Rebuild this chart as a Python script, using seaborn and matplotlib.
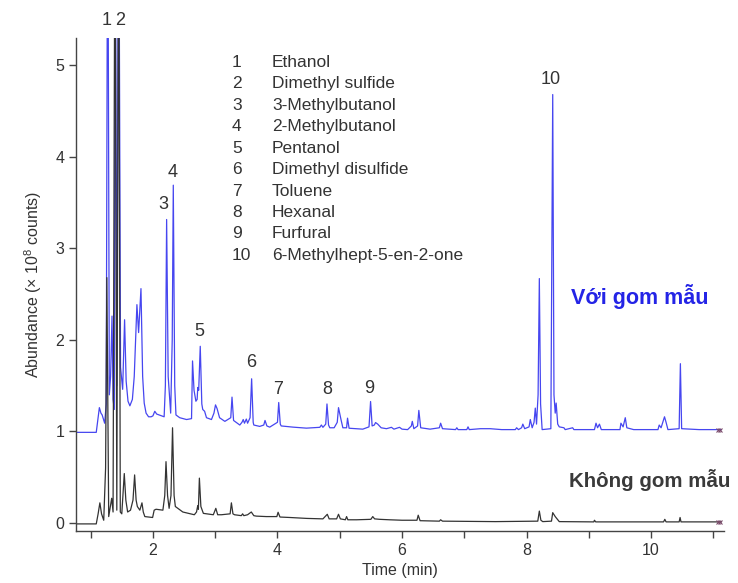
import numpy as np
import pandas as pd
import seaborn as sns
import matplotlib
matplotlib.use("Agg")
import matplotlib.pyplot as plt
from matplotlib.ticker import MultipleLocator, FuncFormatter

# ---------------- data ----------------
# "Với gom mẫu" trace (blue), values before vertical offset
blue_time = [0.77, 1.09, 1.12, 1.14, 1.165, 1.185, 1.225, 1.25, 1.274, 1.30, 1.32, 1.343,
             1.36, 1.38, 1.395, 1.42, 1.45, 1.48, 1.514, 1.545, 1.57, 1.60, 1.63, 1.67,
             1.70, 1.743, 1.77, 1.808, 1.835, 1.86, 1.89, 1.93, 1.97, 2.00, 2.03, 2.06,
             2.10, 2.18, 2.20, 2.22, 2.245, 2.285, 2.31, 2.327, 2.35, 2.37, 2.43, 2.54,
             2.62, 2.636, 2.66, 2.69, 2.71, 2.72, 2.735, 2.76, 2.785, 2.80, 2.83, 2.86,
             2.94, 2.98, 3.005, 3.03, 3.07, 3.155, 3.25, 3.27, 3.295, 3.395, 3.43, 3.45,
             3.47, 3.50, 3.52, 3.56, 3.585, 3.61, 3.62, 3.715, 3.78, 3.80, 3.83, 3.875,
             4.00, 4.02, 4.045, 4.06, 4.25, 4.465, 4.68, 4.705, 4.73, 4.775, 4.795, 4.82,
             4.84, 4.91, 4.96, 4.98, 5.02, 5.05, 5.11, 5.125, 5.15, 5.265, 5.37, 5.47,
             5.495, 5.52, 5.555, 5.575, 5.61, 5.665, 5.75, 5.83, 5.87, 5.96, 6.00, 6.09,
             6.15, 6.165, 6.19, 6.25, 6.27, 6.30, 6.45, 6.60, 6.62, 6.65, 6.86, 6.88,
             6.90, 7.04, 7.06, 7.08, 7.26, 7.415, 7.60, 7.82, 7.84, 7.87, 7.92, 7.94,
             7.97, 8.04, 8.06, 8.09, 8.12, 8.14, 8.16, 8.185, 8.205, 8.225, 8.25, 8.39,
             8.42, 8.44, 8.46, 8.475, 8.50, 8.525, 8.60, 8.62, 8.74, 8.76, 9.09, 9.115,
             9.14, 9.17, 9.20, 9.32, 9.50, 9.515, 9.55, 9.585, 9.61, 9.72, 9.86, 10.11,
             10.13, 10.16, 10.215, 10.24, 10.27, 10.45, 10.47, 10.49, 10.77, 11.13]
blue_abund = [-0.01, -0.01, 0.15, 0.26, 0.20, 0.18, 0.09, 0.30, 6.5, 0.40, 0.60, 1.26,
              0.35, 0.24, 6.5, 0.50, 6.5, 0.70, 0.46, 1.22, 0.55, 0.33, 0.28, 0.35,
              0.60, 1.385, 1.08, 1.56, 0.60, 0.31, 0.20, 0.16, 0.16, 0.17, 0.22, 0.19,
              0.18, 0.16, 0.50, 2.315, 0.60, 0.20, 1.00, 2.69, 0.50, 0.18, 0.15, 0.13,
              0.14, 0.77, 0.45, 0.33, 0.35, 0.48, 0.45, 0.93, 0.30, 0.24, 0.22, 0.15,
              0.13, 0.20, 0.29, 0.25, 0.15, 0.11, 0.15, 0.375, 0.12, 0.07, 0.10, 0.13,
              0.09, 0.135, 0.09, 0.15, 0.575, 0.10, 0.07, 0.055, 0.07, 0.12, 0.06, 0.047,
              0.10, 0.316, 0.08, 0.06, 0.047, 0.036, 0.045, 0.07, 0.045, 0.08, 0.30, 0.07,
              0.04, 0.04, 0.10, 0.26, 0.13, 0.04, 0.04, 0.145, 0.035, 0.03, 0.025, 0.05,
              0.327, 0.06, 0.07, 0.097, 0.08, 0.04, 0.03, 0.045, 0.025, 0.045, 0.025, 0.02,
              0.06, 0.11, 0.03, 0.06, 0.23, 0.04, 0.025, 0.04, 0.09, 0.03, 0.02, 0.04,
              0.02, 0.02, 0.05, 0.02, 0.03, 0.03, 0.02, 0.02, 0.04, 0.02, 0.04, 0.08,
              0.03, 0.05, 0.13, 0.04, 0.10, 0.255, 0.08, 0.40, 1.67, 0.30, 0.02, 0.03,
              3.68, 0.40, 0.20, 0.31, 0.08, 0.05, 0.04, 0.02, 0.04, 0.02, 0.02, 0.09,
              0.04, 0.08, 0.02, 0.02, 0.02, 0.09, 0.05, 0.15, 0.04, 0.02, 0.02, 0.02,
              0.07, 0.04, 0.16, 0.10, 0.02, 0.03, 0.74, 0.03, 0.02, 0.02]

# "Không gom mẫu" trace (dark grey)
black_time = [0.77, 1.09, 1.12, 1.148, 1.175, 1.21, 1.24, 1.26, 1.29, 1.338, 1.36, 1.39,
              1.42, 1.45, 1.476, 1.50, 1.54, 1.565, 1.594, 1.64, 1.68, 1.706, 1.73, 1.75,
              1.79, 1.824, 1.845, 1.87, 1.995, 2.02, 2.05, 2.16, 2.19, 2.21, 2.235, 2.26,
              2.29, 2.315, 2.34, 2.36, 2.48, 2.665, 2.70, 2.72, 2.73, 2.746, 2.77, 2.81,
              2.97, 3.01, 3.04, 3.10, 3.24, 3.26, 3.285, 3.31, 3.42, 3.44, 3.46, 3.52,
              3.58, 3.62, 3.66, 3.82, 3.99, 4.01, 4.04, 4.20, 4.47, 4.73, 4.80, 4.83,
              4.95, 4.98, 5.01, 5.09, 5.11, 5.13, 5.27, 5.50, 5.53, 5.56, 5.64, 5.80,
              6.00, 6.24, 6.26, 6.29, 6.60, 6.62, 6.65, 7.50, 8.18, 8.205, 8.23, 8.26,
              8.40, 8.42, 8.46, 8.525, 9.08, 9.09, 9.11, 10.20, 10.22, 10.24, 10.45, 10.465,
              10.48, 11.13]
black_abund = [-0.01, -0.01, 0.10, 0.22, 0.10, 0.03, 0.60, 2.68, 0.07, 0.27, 0.12, 7.0,
               0.14, 7.0, 0.12, 0.10, 0.54, 0.25, 0.12, 0.14, 0.25, 0.525, 0.25, 0.18,
               0.14, 0.22, 0.12, 0.07, 0.06, 0.14, 0.15, 0.14, 0.30, 0.67, 0.30, 0.16,
               0.30, 1.04, 0.30, 0.18, 0.12, 0.09, 0.12, 0.19, 0.15, 0.49, 0.18, 0.105,
               0.09, 0.16, 0.09, 0.09, 0.10, 0.22, 0.10, 0.09, 0.08, 0.10, 0.08, 0.09,
               0.12, 0.08, 0.075, 0.07, 0.07, 0.117, 0.065, 0.06, 0.05, 0.045, 0.095, 0.045,
               0.045, 0.095, 0.045, 0.035, 0.07, 0.035, 0.035, 0.04, 0.07, 0.045, 0.04, 0.035,
               0.03, 0.03, 0.085, 0.025, 0.02, 0.035, 0.02, 0.015, 0.02, 0.13, 0.03, 0.015,
               0.02, 0.113, 0.07, 0.015, 0.012, 0.03, 0.012, 0.012, 0.04, 0.012, 0.012, 0.06,
               0.012, 0.012]

series_names = ["Với gom mẫu", "Không gom mẫu"]
series_offsets = [1.0, 0.0]

peak_labels = ["1", "2", "3", "4", "5", "6", "7", "8", "9", "10"]
peak_label_time = [1.25, 1.47, 2.17, 2.31, 2.745, 3.57, 4.01, 4.80, 5.48, 8.39]
peak_label_y = [5.485, 5.485, 3.48, 3.83, 2.09, 1.75, 1.455, 1.455, 1.47, 4.84]

compound_names = ["Ethanol", "Dimethyl sulfide", "3-Methylbutanol", "2-Methylbutanol",
                  "Pentanol", "Dimethyl disulfide", "Toluene", "Hexanal", "Furfural",
                  "6-Methylhept-5-en-2-one"]

x_ticks = [2, 4, 6, 8, 10]
y_ticks = [0, 1, 2, 3, 4, 5]

# ---------------- build table ----------------
frames = []
for name, off, t, a in [(series_names[0], series_offsets[0], blue_time, blue_abund),
                        (series_names[1], series_offsets[1], black_time, black_abund)]:
    frames.append(pd.DataFrame({"Time": t,
                                "Abundance": np.asarray(a) + off,
                                "Series": name}))
df = pd.concat(frames, ignore_index=True)

# ---------------- style ----------------
sns.set_style("ticks")
plt.rcParams["font.family"] = ["Liberation Sans", "DejaVu Sans"]
plt.rcParams["mathtext.fontset"] = "custom"
plt.rcParams["mathtext.rm"] = "Liberation Sans"
plt.rcParams["mathtext.default"] = "regular"

text_color = "#333333"
palette = {series_names[0]: "#4646f0", series_names[1]: "#333333"}

fig = plt.figure(figsize=(7.38, 5.83), dpi=100)
ax = fig.add_axes([0.103, 0.0892, 0.878, 0.846])

sns.lineplot(data=df, x="Time", y="Abundance", hue="Series", palette=palette,
             estimator=None, sort=False, linewidth=0.9, legend=False, ax=ax)

# small end markers
ax.plot([11.08, 11.11], [1.02, 1.02], ls="none", marker="x", ms=2.5, mew=0.8, color="#7a4a6a")
ax.plot([11.08, 11.11], [0.012, 0.012], ls="none", marker="x", ms=2.5, mew=0.8, color="#7a4a6a")

ax.set_xlim(0.765, 11.17)
ax.set_ylim(-0.0875, 5.30)

ax.xaxis.set_major_locator(MultipleLocator(1))
ax.xaxis.set_major_formatter(FuncFormatter(lambda v, p: f"{int(round(v))}" if int(round(v)) in x_ticks else ""))
ax.set_yticks(y_ticks)

for s in ["top", "right"]:
    ax.spines[s].set_visible(False)
for s in ["left", "bottom"]:
    ax.spines[s].set_color("#444444")
    ax.spines[s].set_linewidth(1.0)
ax.tick_params(axis="both", colors="#444444", labelcolor=text_color, labelsize=11.5,
               length=5, width=1.0)

ax.set_xlabel("Time (min)", fontsize=11.5, color=text_color, labelpad=4)
ax.set_ylabel(r"Abundance (× 10$^{8}$ counts)", fontsize=11.5, color=text_color, labelpad=8)

for lab, tx, ty in zip(peak_labels, peak_label_time, peak_label_y):
    ax.text(tx, ty, lab, ha="center", va="center", fontsize=13, color=text_color)

# compound list
row_top = 5.03
row_step = 0.234
for i, (lab, nm) in enumerate(zip(peak_labels, compound_names)):
    yy = row_top - i * row_step
    ax.text(3.27, yy, lab, ha="left", va="center", fontsize=12.5, color=text_color)
    ax.text(3.91, yy, nm, ha="left", va="center", fontsize=12.5, color=text_color)

ax.text(8.72, 2.47, series_names[0], ha="left", va="center", fontsize=15.5,
        fontweight="bold", color="#2424e6")
ax.text(8.68, 0.47, series_names[1], ha="left", va="center", fontsize=14.8,
        fontweight="bold", color="#3a3a3a", clip_on=False)

fig.savefig("out.png", dpi=100)
